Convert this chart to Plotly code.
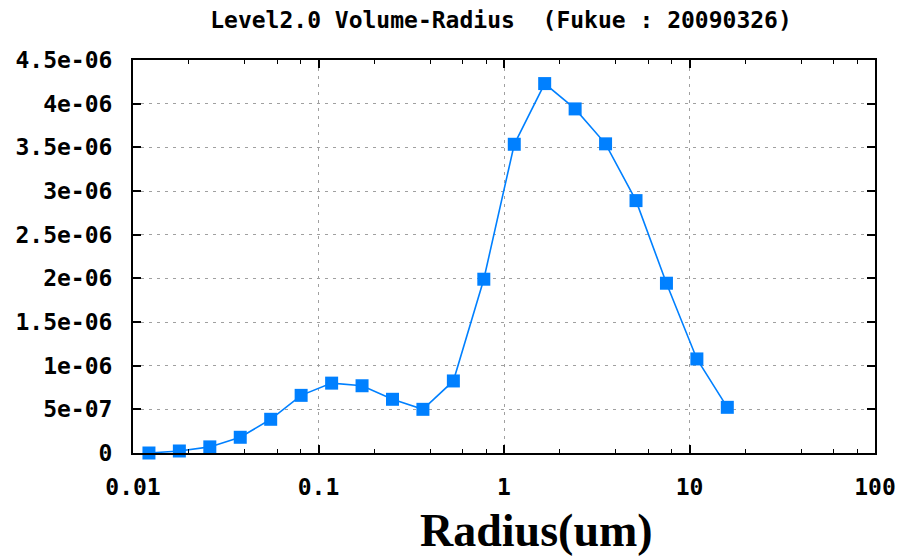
import plotly.graph_objects as go

# Volume size distribution, Fukue site, 2009-03-26 (Level 2.0)
radius_um = [0.01219, 0.01778, 0.02595, 0.03786, 0.05524, 0.08061, 0.1177,
             0.1717, 0.2505, 0.3655, 0.5334, 0.7783, 1.136, 1.657, 2.418,
             3.528, 5.148, 7.512, 10.96, 15.99]
volume = [0.0, 0.023e-6, 0.07e-6, 0.18e-6, 0.386e-6, 0.66e-6, 0.80e-6,
          0.77e-6, 0.615e-6, 0.50e-6, 0.825e-6, 1.99e-6, 3.535e-6, 4.23e-6,
          3.94e-6, 3.54e-6, 2.89e-6, 1.944e-6, 1.077e-6, 0.523e-6]

x_tickvals = [0.01, 0.1, 1, 10, 100]
x_ticktext = ["0.01", "0.1", "1", "10", "100"]
x_minor = [m * d for d in (0.01, 0.1, 1, 10) for m in (2, 4, 6, 8)]
y_tickvals = [0, 0.5e-6, 1e-6, 1.5e-6, 2e-6, 2.5e-6, 3e-6, 3.5e-6, 4e-6, 4.5e-6]
y_ticktext = ["0", "5e-07", "1e-06", "1.5e-06", "2e-06", "2.5e-06",
              "3e-06", "3.5e-06", "4e-06", "4.5e-06"]

blue = "#0080ff"
mono = dict(family="DejaVu Sans Mono", size=23, color="black", weight="bold")

W, H = 917, 556
L, R, T, B = 133, 42, 60, 103
plot_w, plot_h = W - L - R, H - T - B

fig = go.Figure(go.Scatter(
    x=radius_um, y=volume, mode="lines+markers",
    line=dict(color=blue, width=1.6),
    marker=dict(symbol="square", size=13, color=blue),
    cliponaxis=False, showlegend=False,
))

fig.update_layout(
    width=W, height=H,
    margin=dict(l=L, r=R, t=T, b=B),
    paper_bgcolor="white", plot_bgcolor="white",
    title=dict(text="Level2.0 Volume-Radius  (Fukue : 20090326)",
               x=(501 - L) / plot_w, xref="paper", xanchor="center",
               y=1 - 20 / H, yanchor="middle",
               font=dict(family="DejaVu Sans Mono", size=23, color="black",
                         weight="bold")),
    xaxis=dict(
        type="log", range=[-2, 2],
        tickmode="array", tickvals=x_tickvals, ticktext=x_ticktext,
        tickfont=mono, ticks="inside", ticklen=8, tickwidth=1.5,
        tickcolor="black", ticklabelstandoff=12,
        showline=True, linecolor="black", linewidth=2, mirror="ticks",
        showgrid=True, gridcolor="#a0a0a0", gridwidth=1.3, griddash="3px,5px",
        zeroline=False,
        minor=dict(tickvals=x_minor, ticks="inside", ticklen=4,
                   tickwidth=1.3, tickcolor="black", showgrid=False),
    ),
    yaxis=dict(
        range=[0, 4.5e-6],
        tickmode="array", tickvals=y_tickvals, ticktext=y_ticktext,
        tickfont=mono, ticks="inside", ticklen=8, tickwidth=1.5,
        tickcolor="black", ticklabelstandoff=14,
        showline=True, linecolor="black", linewidth=2, mirror="ticks",
        showgrid=True, gridcolor="#a0a0a0", gridwidth=1.3, griddash="3px,5px",
        zeroline=False,
    ),
    annotations=[dict(
        text="Radius(um)", xref="paper", yref="paper",
        x=(536 - L) / plot_w, y=-(530 - (H - B)) / plot_h,
        xanchor="center", yanchor="middle", showarrow=False,
        font=dict(family="Liberation Serif", size=46, color="black",
                  weight="bold"),
    )],
)

fig.write_html("out.html")
